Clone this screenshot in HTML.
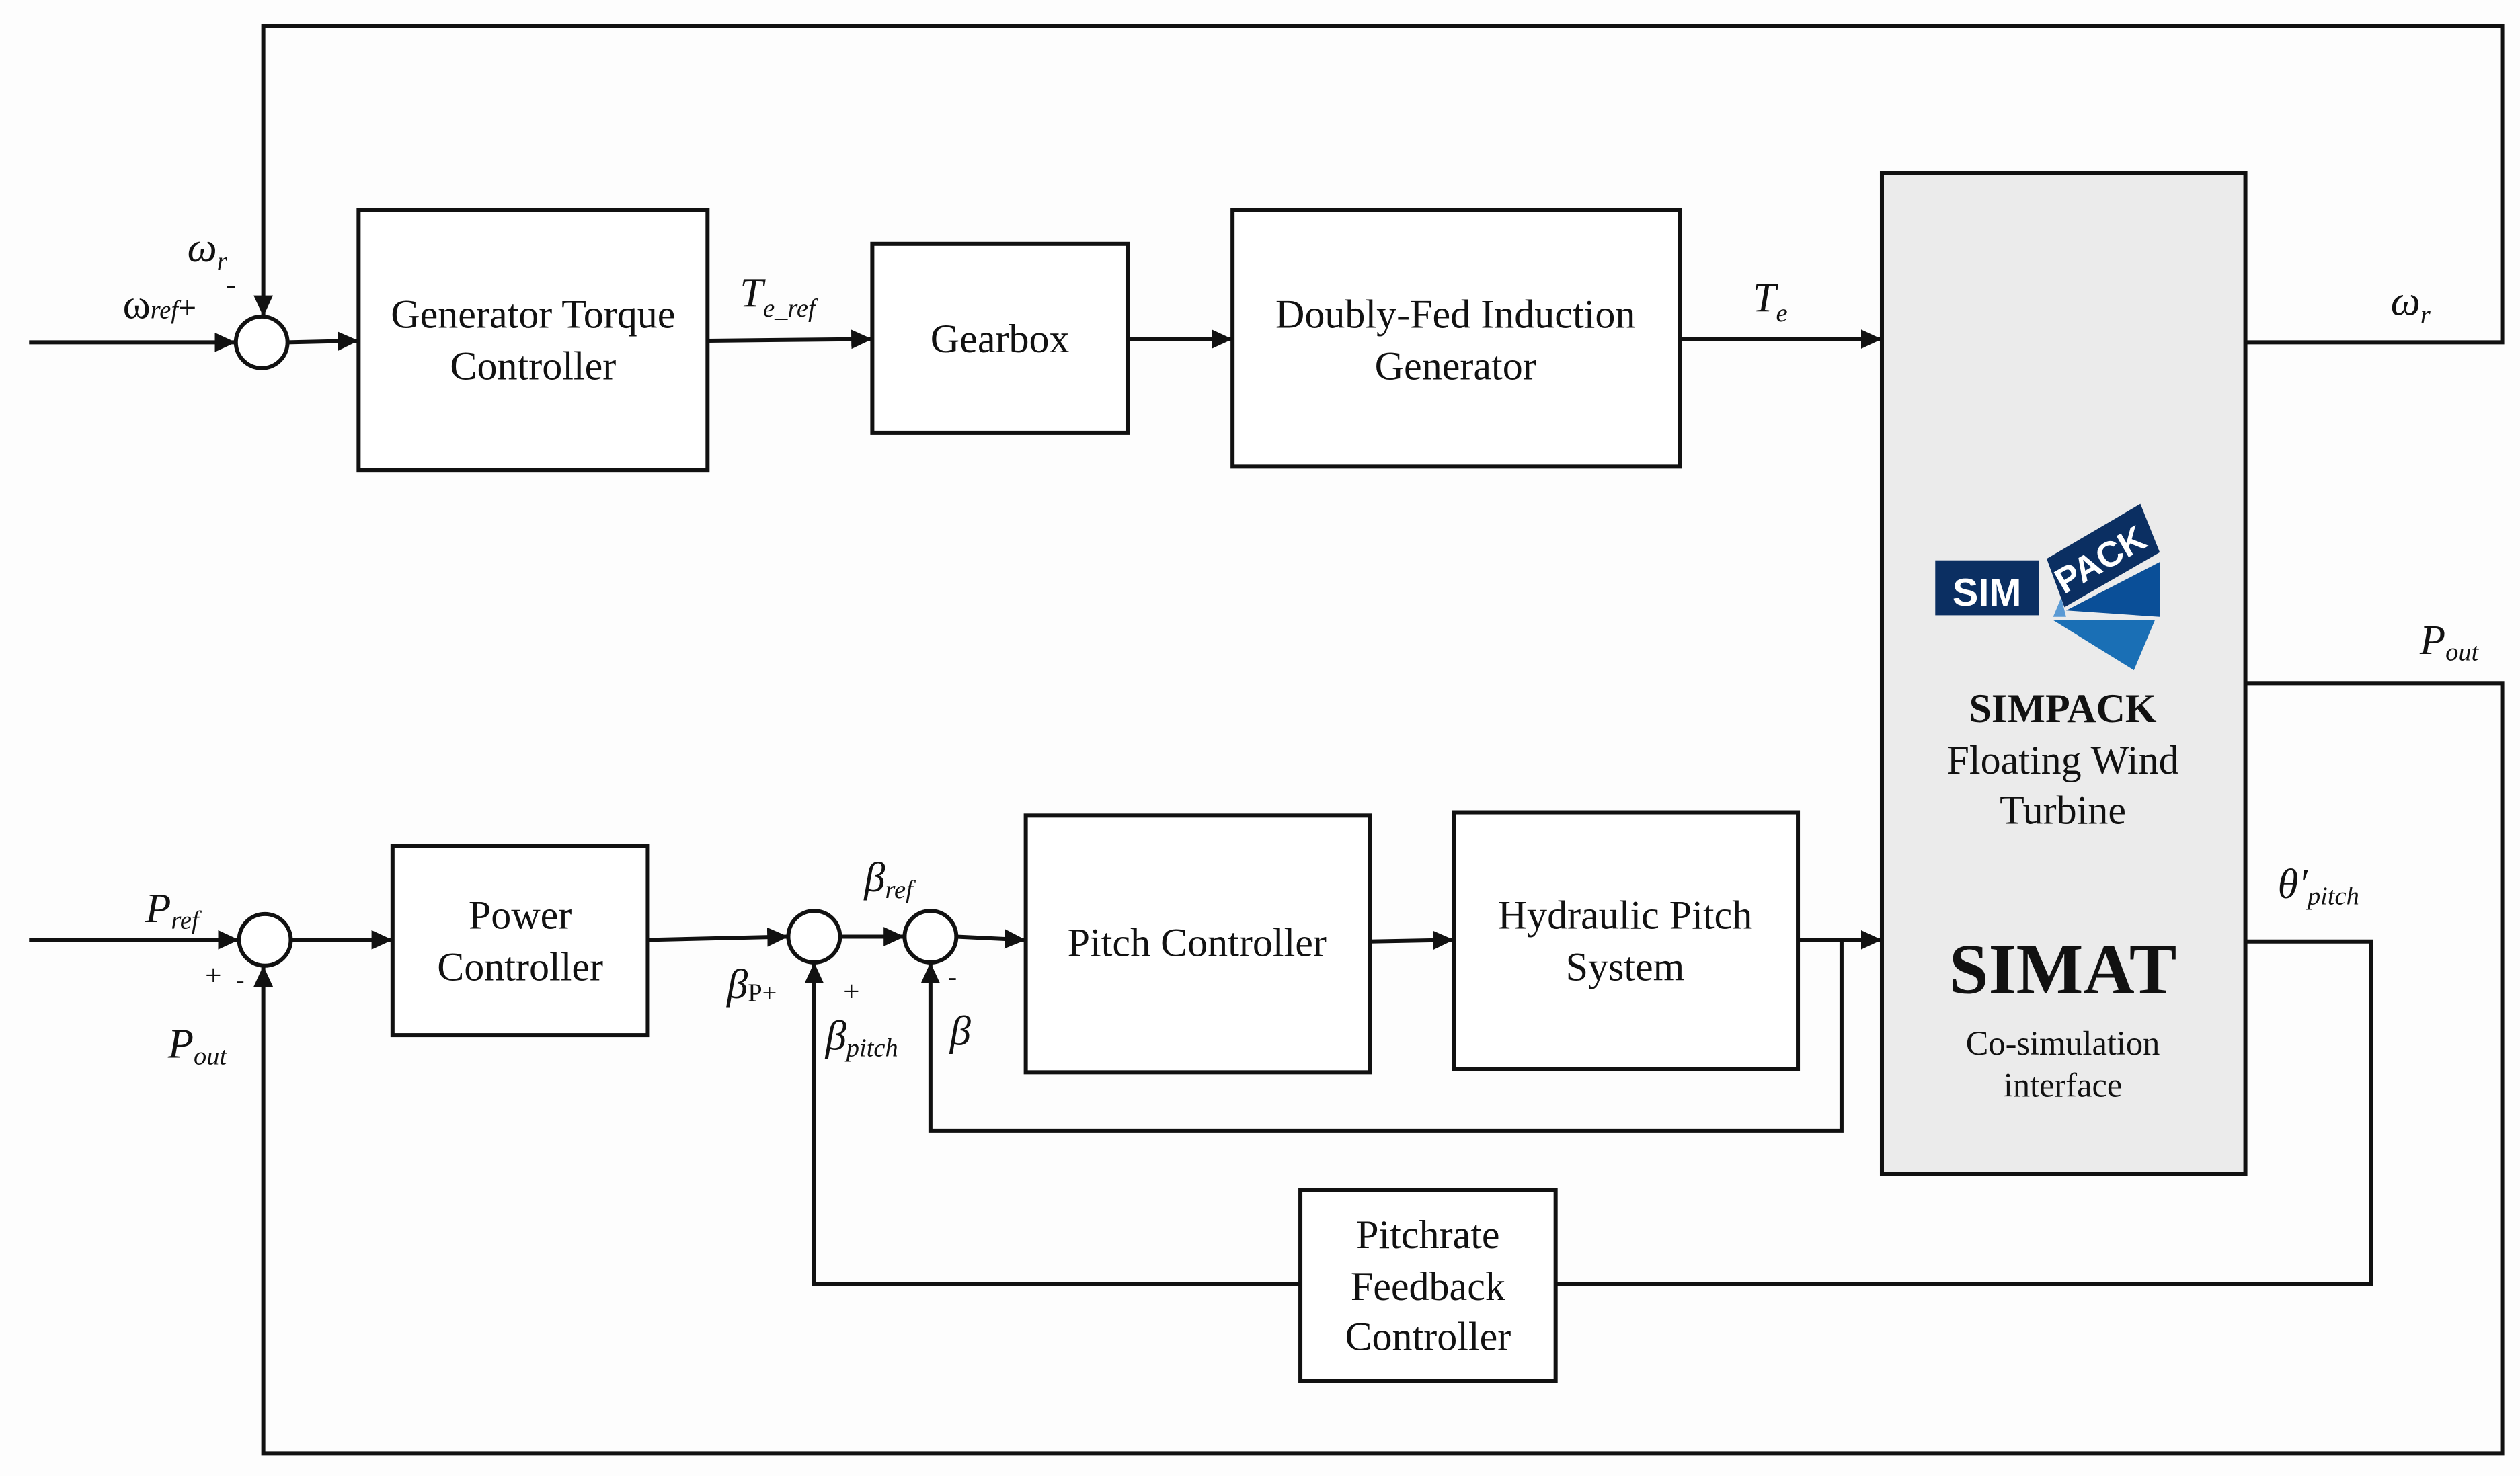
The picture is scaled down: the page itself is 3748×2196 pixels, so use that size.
<!DOCTYPE html>
<html><head><meta charset="utf-8"><style>
html,body{margin:0;padding:0;background:#fdfdfd}
svg{display:block}
text{font-family:"Liberation Serif",serif;fill:#111}
</style></head><body>
<svg width="3748" height="2196" viewBox="0 0 1560 914" preserveAspectRatio="none" xmlns="http://www.w3.org/2000/svg">
<defs>
<marker id="a" markerWidth="13" markerHeight="12" refX="12" refY="6" orient="auto" markerUnits="userSpaceOnUse" viewBox="0 0 13 12">
<path d="M0,0 L13,6 L0,12 z" fill="#111"/>
</marker>
</defs>
<rect width="1560" height="914" fill="#fdfdfd"/>
<g stroke="#111" stroke-width="2.5" fill="none">
<rect x="222" y="130" width="216" height="161" fill="#fff"/>
<rect x="540" y="151" width="158" height="117" fill="#fff"/>
<rect x="763" y="130" width="277" height="159" fill="#fff"/>
<rect x="1165" y="107" width="225" height="620" fill="#ebebeb"/>
<rect x="243" y="524" width="158" height="117" fill="#fff"/>
<rect x="635" y="505" width="213" height="159" fill="#fff"/>
<rect x="900" y="503" width="213" height="159" fill="#fff"/>
<rect x="805" y="737" width="158" height="118" fill="#fff"/>
<circle cx="162" cy="212" r="16" fill="#fff"/>
<circle cx="164" cy="582" r="16" fill="#fff"/>
<circle cx="504" cy="580" r="16" fill="#fff"/>
<circle cx="576" cy="580" r="16" fill="#fff"/>
<line x1="18" y1="212" x2="145" y2="212" marker-end="url(#a)"/>
<polyline points="1390,212 1549,212 1549,16 163,16 163,195" marker-end="url(#a)"/>
<line x1="178" y1="212" x2="221" y2="211" marker-end="url(#a)"/>
<line x1="438" y1="211" x2="539" y2="210" marker-end="url(#a)"/>
<line x1="698" y1="210" x2="762" y2="210" marker-end="url(#a)"/>
<line x1="1040" y1="210" x2="1164" y2="210" marker-end="url(#a)"/>
<line x1="18" y1="582" x2="147" y2="582" marker-end="url(#a)"/>
<polyline points="1390,423 1549,423 1549,900 163,900 163,599" marker-end="url(#a)"/>
<line x1="180" y1="582" x2="242" y2="582" marker-end="url(#a)"/>
<line x1="401" y1="582" x2="487" y2="580" marker-end="url(#a)"/>
<line x1="520" y1="580" x2="559" y2="580" marker-end="url(#a)"/>
<line x1="592" y1="580" x2="634" y2="582" marker-end="url(#a)"/>
<line x1="848" y1="583" x2="899" y2="582" marker-end="url(#a)"/>
<line x1="1113" y1="582" x2="1164" y2="582" marker-end="url(#a)"/>
<polyline points="1140,582 1140,700 576,700 576,597" marker-end="url(#a)"/>
<polyline points="1390,583 1468,583 1468,795 963,795"/>
<polyline points="805,795 504,795 504,597" marker-end="url(#a)"/>
</g>
<g font-size="25" text-anchor="middle">
<text x="330" y="203">Generator Torque</text>
<text x="330" y="235">Controller</text>
<text x="619" y="218">Gearbox</text>
<text x="901" y="203">Doubly-Fed Induction</text>
<text x="901" y="235">Generator</text>
<text x="322" y="575">Power</text>
<text x="322" y="607">Controller</text>
<text x="741" y="592">Pitch Controller</text>
<text x="1006" y="575">Hydraulic Pitch</text>
<text x="1006" y="607">System</text>
<text x="884" y="773">Pitchrate</text>
<text x="884" y="805">Feedback</text>
<text x="884" y="836">Controller</text>
<text x="1277" y="447" font-weight="bold">SIMPACK</text>
<text x="1277" y="479">Floating Wind</text>
<text x="1277" y="510">Turbine</text>
<text x="1277" y="615" font-size="44" font-weight="bold">SIMAT</text>
<text x="1277" y="653" font-size="21">Co-simulation</text>
<text x="1277" y="679" font-size="21">interface</text>
</g>
<rect x="1198" y="347" width="64" height="34" fill="#0b2f62"/>
<text x="1230" y="375" font-weight="bold" font-size="24" text-anchor="middle" style="fill:#fff;font-family:'Liberation Sans',sans-serif">SIM</text>
<polygon points="1267,346 1325,312 1337,342 1278,376" fill="#0b2f62"/>
<text x="0" y="0" font-size="22" font-weight="bold" text-anchor="middle" transform="translate(1304,353) rotate(-30)" style="fill:#fff;font-family:'Liberation Sans',sans-serif">PACK</text>
<polygon points="1279,378 1337,348 1337,382" fill="#0a4f98"/>
<polygon points="1271,384 1334,384 1321,415" fill="#1a6fb5"/>
<polygon points="1271,382 1276,370 1279,382" fill="#5a9ad4"/>
<g font-style="italic" font-size="26">
<text x="116" y="162">ω<tspan font-size="16" dy="5">r</tspan></text>
<text x="76" y="197" font-style="normal">ω<tspan font-size="16" font-style="italic">ref</tspan><tspan font-style="normal" font-size="20">+</tspan></text>
<text x="140" y="182" font-style="normal" font-size="18">-</text>
<text x="458" y="190">T<tspan font-size="16" dy="6">e_ref</tspan></text>
<text x="1085" y="193">T<tspan font-size="16" dy="6">e</tspan></text>
<text x="1480" y="195">ω<tspan font-size="16" dy="5">r</tspan></text>
<text x="1498" y="405">P<tspan font-size="16" dy="4">out</tspan></text>
<text x="1410" y="556">θ′<tspan font-size="16" dy="4">pitch</tspan></text>
<text x="90" y="571">P<tspan font-size="16" dy="4">ref</tspan></text>
<text x="104" y="655">P<tspan font-size="16" dy="4">out</tspan></text>
<text x="127" y="610" font-style="normal" font-size="18">+</text>
<text x="146" y="612" font-style="normal" font-size="16">-</text>
<text x="535" y="552">β<tspan font-size="16" dy="4">ref</tspan></text>
<text x="450" y="618">β<tspan font-size="16" font-style="normal" dy="2">P+</tspan></text>
<text x="522" y="620" font-style="normal" font-size="18">+</text>
<text x="511" y="650">β<tspan font-size="16" dy="4">pitch</tspan></text>
<text x="587" y="610" font-style="normal" font-size="16">-</text>
<text x="588" y="647">β</text>
</g>
</svg>
</body></html>
